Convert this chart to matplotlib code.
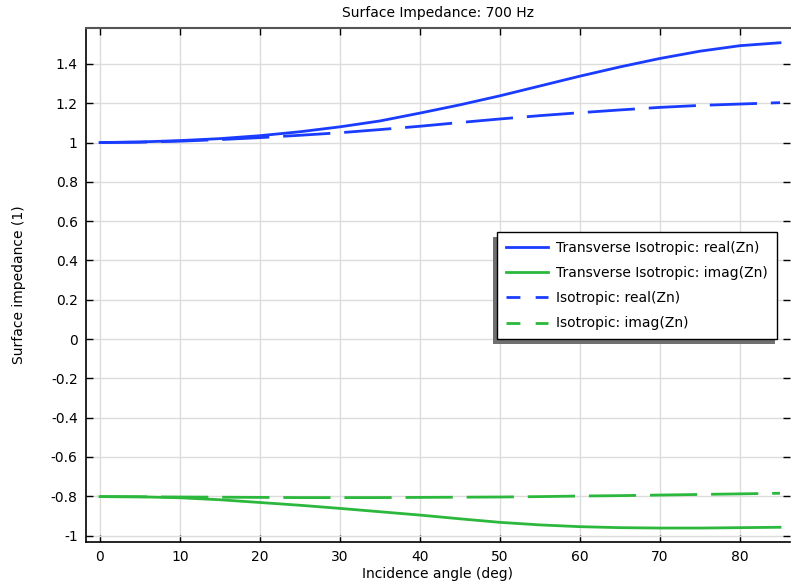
import matplotlib
matplotlib.use("Agg")
import matplotlib.pyplot as plt
from matplotlib.patches import Rectangle
from matplotlib.lines import Line2D

angles = [0, 5, 10, 15, 20, 25, 30, 35, 40, 45, 50, 55, 60, 65, 70, 75, 80, 85]
ti_real = [1.000, 1.003, 1.010, 1.020, 1.035, 1.055, 1.080, 1.110, 1.150, 1.192,
           1.238, 1.288, 1.338, 1.385, 1.428, 1.465, 1.493, 1.508]
ti_imag = [-0.802, -0.803, -0.808, -0.818, -0.832, -0.846, -0.862, -0.879, -0.896,
           -0.915, -0.933, -0.946, -0.955, -0.960, -0.962, -0.962, -0.960, -0.958]
iso_real = [1.000, 1.002, 1.007, 1.015, 1.025, 1.037, 1.050, 1.066, 1.083, 1.102,
            1.120, 1.137, 1.152, 1.166, 1.179, 1.189, 1.196, 1.203]
iso_imag = [-0.802, -0.803, -0.804, -0.805, -0.806, -0.807, -0.807, -0.807, -0.806,
            -0.805, -0.804, -0.802, -0.799, -0.797, -0.794, -0.791, -0.788, -0.785]

labels = ["Transverse Isotropic: real(Zn)", "Transverse Isotropic: imag(Zn)",
          "Isotropic: real(Zn)", "Isotropic: imag(Zn)"]
x_ticks = [0, 10, 20, 30, 40, 50, 60, 70, 80]
y_ticks = [-1, -0.8, -0.6, -0.4, -0.2, 0, 0.2, 0.4, 0.6, 0.8, 1, 1.2, 1.4]
y_ticklabels = ["-1", "-0.8", "-0.6", "-0.4", "-0.2", "0", "0.2", "0.4", "0.6",
                "0.8", "1", "1.2", "1.4"]

blue = "#1a3cff"
green = "#2cb83c"

fig = plt.figure(figsize=(7.91, 5.84), dpi=100)
ax = fig.add_axes([86/791, 1-542/584, (790-86)/791, (542-28)/584])

lw = 2.0
ax.plot(angles, ti_real, color=blue, lw=lw)
ax.plot(angles, ti_imag, color=green, lw=lw)
l3, = ax.plot(angles, iso_real, color=blue, lw=lw)
l4, = ax.plot(angles, iso_imag, color=green, lw=lw)
for l in (l3, l4):
    l.set_dashes((17, 5))

ax.set_xlim(-1.75, 86.25)
ax.set_ylim(-1.033, 1.583)
ax.set_xticks(x_ticks)
ax.set_yticks(y_ticks)
ax.set_yticklabels(y_ticklabels)
ax.grid(True, color="#dcdcdc", lw=1)
ax.set_axisbelow(True)
ax.tick_params(direction="in", length=5, width=1, top=True, right=True,
               labelsize=10, colors="black", pad=6)
for s in ("left", "bottom"):
    ax.spines[s].set_color("black")
    ax.spines[s].set_linewidth(1.2)
ax.spines["top"].set_color("#555555")
ax.spines["top"].set_linewidth(1.5)
ax.spines["right"].set_visible(False)

ax.set_title("Surface Impedance: 700 Hz", fontsize=10, pad=8)
ax.set_xlabel("Incidence angle (deg)", fontsize=10, labelpad=2)
ax.set_ylabel("Surface impedance (1)", fontsize=10, labelpad=18)

handles = [
    Line2D([], [], color=blue, lw=lw),
    Line2D([], [], color=green, lw=lw),
    Line2D([], [], color=blue, lw=lw, dashes=(5.0, 5.5)),
    Line2D([], [], color=green, lw=lw, dashes=(5.0, 5.5)),
]
leg = ax.legend(handles, labels, loc="upper right", bbox_to_anchor=(0.9815, 0.603),
                borderaxespad=0, fancybox=False, frameon=True, edgecolor="black",
                framealpha=1, fontsize=10, handlelength=3.0, handletextpad=0.6,
                labelspacing=0.8, borderpad=0.65)
leg.get_frame().set_linewidth(1.0)
leg.set_zorder(5)

fig.canvas.draw()
bb = leg.get_window_extent()
shadow = Rectangle((bb.x0 - 4, bb.y0 - 5), bb.width + 2, bb.height,
                   transform=None, facecolor="#707070", edgecolor="none", zorder=4.5)
ax.add_artist(shadow)

fig.savefig("out.png", dpi=100)
